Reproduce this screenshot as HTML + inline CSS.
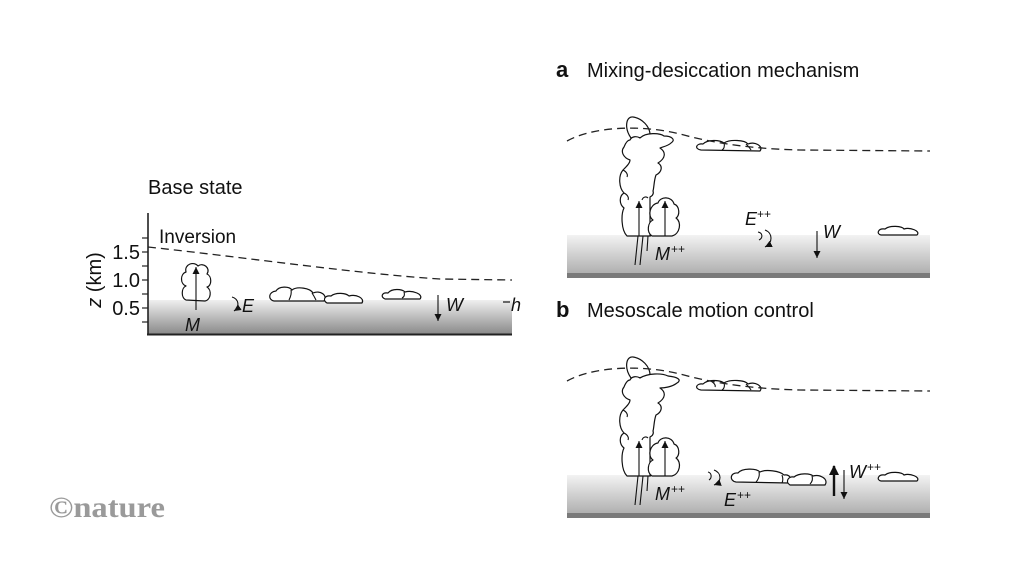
<!DOCTYPE html>
<html><head><meta charset="utf-8"><style>
html,body{margin:0;padding:0;background:#fff;}
svg{display:block;}
text{font-family:"Liberation Sans",Arial,sans-serif;fill:#111;}
.it{font-style:italic;}
.cl{fill:#fff;stroke:#111;stroke-width:1.2;stroke-linejoin:round;}
.ln{stroke:#111;stroke-width:1.1;fill:none;}
.dash{stroke:#222;stroke-width:1.3;fill:none;stroke-dasharray:8 5;}
</style></head><body>
<svg width="1024" height="576" viewBox="0 0 1024 576" xmlns="http://www.w3.org/2000/svg">
<defs>
<marker id="ah" markerUnits="userSpaceOnUse" markerWidth="8" markerHeight="8" refX="7" refY="3.5" orient="auto">
<path d="M0,0 L7,3.5 L0,7 Z" fill="#111"/>
</marker>
<marker id="ahB" markerUnits="userSpaceOnUse" markerWidth="12" markerHeight="12" refX="9" refY="5" orient="auto">
<path d="M0,0 L10,5 L0,10 Z" fill="#111"/>
</marker>
<linearGradient id="gBase" gradientUnits="userSpaceOnUse" x1="0" y1="300" x2="0" y2="334">
<stop offset="0" stop-color="#efefef"/><stop offset="1" stop-color="#8a8a8a"/>
</linearGradient>
<linearGradient id="gA" gradientUnits="userSpaceOnUse" x1="0" y1="235" x2="0" y2="273">
<stop offset="0" stop-color="#f3f3f3"/><stop offset="1" stop-color="#b0b0b0"/>
</linearGradient>
</defs>

<!-- ============ BASE STATE ============ -->
<text x="148" y="194" font-size="20">Base state</text>
<rect x="148" y="300" width="364" height="34" fill="url(#gBase)"/>
<line x1="148" y1="213" x2="148" y2="335" stroke="#222" stroke-width="1.6"/>
<line x1="147" y1="334.5" x2="512" y2="334.5" stroke="#222" stroke-width="2"/>
<g stroke="#222" stroke-width="1.2">
<line x1="142" y1="238" x2="148" y2="238"/>
<line x1="142" y1="252" x2="148" y2="252"/>
<line x1="142" y1="266" x2="148" y2="266"/>
<line x1="142" y1="280" x2="148" y2="280"/>
<line x1="142" y1="294" x2="148" y2="294"/>
<line x1="142" y1="308" x2="148" y2="308"/>
<line x1="142" y1="322" x2="148" y2="322"/>
</g>
<text x="140" y="259" font-size="20" text-anchor="end">1.5</text>
<text x="140" y="287" font-size="20" text-anchor="end">1.0</text>
<text x="140" y="315" font-size="20" text-anchor="end">0.5</text>
<text transform="translate(101,280) rotate(-90)" x="0" y="0" font-size="20" text-anchor="middle"><tspan class="it">z</tspan> (km)</text>
<text x="159" y="243" font-size="19">Inversion</text>
<path class="dash" d="M148,247 C250,258 360,274 440,279 L512,280"/>

<!-- base cloud -->
<path class="cl" d="M186,300 C181,298 181,288 186,286 C180,284 180,274 186,272 C184,264 194,261 198,266 C203,262 211,268 207,274 C212,276 212,286 207,287 C212,290 211,300 205,301 Z"/>
<line class="ln" x1="196" y1="310" x2="196" y2="267" marker-end="url(#ah)"/>
<text x="185" y="331" font-size="18" class="it">M</text>
<path class="ln" d="M232,297 C239,299 240,307 234,311" marker-end="url(#ah)"/>
<text x="242" y="312" font-size="18" class="it">E</text>

<!-- base flat clouds -->
<path class="cl" d="M274,301 C268,300 268,292 276,291 C279,286 289,286 292,290 C297,286 310,288 313,293 C320,290 328,295 324,301 Z"/>
<path class="ln" d="M291,290 C292,294 290,298 289,300 M312,293 C314,296 315,298 316,300"/>
<path class="cl" d="M327,303 C322,300 325,295 331,296 C336,292 346,293 349,296 C356,294 365,298 362,303 Z"/>
<path class="cl" d="M385,299 C380,297 382,292 388,293 C392,288 402,289 405,292 C412,290 424,294 420,299 Z"/>
<path class="ln" d="M404,292 C405,295 404,297 402,298"/>
<line class="ln" x1="438" y1="295" x2="438" y2="321" marker-end="url(#ah)"/>
<text x="446" y="311" font-size="18" class="it">W</text>
<line x1="503" y1="302" x2="510" y2="302" stroke="#222" stroke-width="1.3"/>
<text x="511" y="311" font-size="18" class="it">h</text>

<!-- ============ PANEL A ============ -->
<text x="556" y="77" font-size="22" font-weight="bold">a</text>
<text x="587" y="77" font-size="20">Mixing-desiccation mechanism</text>

<g id="panelA">
<rect x="567" y="235" width="363" height="38" fill="url(#gA)"/>
<rect x="567" y="273" width="363" height="5" fill="#7a7a7a"/>
<path class="cl" d="M631,138 C624,128 626,116 633,117 C641,118 651,126 650,137 Z"/>
<path class="cl" d="M627,236 C621,230 621,214 624,208 C619,204 619,196 624,193 C619,188 618,176 623,170 C627,166 630,163 630,160 C624,158 620,152 624,147 C626,142 628,140 630,140 C632,136 637,136 640,138 C646,132 660,133 664,136 C672,136 676,140 671,143 C668,146 662,147 660,148 C666,152 666,158 658,163 C663,166 662,172 656,175 C654,180 654,188 653,191 C654,194 652,196 650,197 L650,236 Z"/>
<path class="ln" d="M624,193 C628,195 629,198 628,200 M623,170 C627,172 628,175 627,177 M642,200 C643,197 646,196 648,198"/>
<line class="ln" x1="627" y1="236" x2="651" y2="236"/>
<path class="cl" d="M652,236 C646,232 648,222 653,220 C647,216 650,204 658,203 C660,196 672,196 674,204 C680,206 680,216 676,218 C682,222 680,234 672,236 Z"/>
<line class="ln" x1="635" y1="265" x2="638" y2="236"/>
<line class="ln" x1="640" y1="265" x2="643" y2="236"/>
<line class="ln" x1="647" y1="251" x2="648" y2="236"/>
<line class="ln" x1="639" y1="236" x2="639" y2="201" marker-end="url(#ah)"/>
<line class="ln" x1="665" y1="236" x2="665" y2="201" marker-end="url(#ah)"/>
<path class="cl" d="M701,150 C694,149 696,143 703,144 C708,139 720,140 724,143 C730,139 745,140 748,144 C754,141 764,146 760,151 Z"/>
<path class="ln" d="M724,143 C725,146 724,149 722,150 M746,144 C748,146 750,148 751,150"/>
<path class="dash" d="M567,141 C592,127 640,124 680,134 C720,145 760,149 800,150 L930,151"/>
</g>
<text x="655" y="260" font-size="18" class="it">M</text><text x="671" y="253" font-size="12">++</text>
<text x="745" y="225" font-size="18" class="it">E</text><text x="757" y="218" font-size="12">++</text>
<path class="ln" d="M758,232 C763,233 763,238 759,240"/>
<path class="ln" d="M765,230 C773,233 773,243 765,247" marker-end="url(#ah)"/>
<line class="ln" x1="817" y1="231" x2="817" y2="258" marker-end="url(#ah)"/>
<text x="823" y="238" font-size="18" class="it">W</text>
<path class="cl" d="M881,235 C876,234 878,228 885,229 C890,225 902,226 904,229 C910,227 921,231 917,235 Z"/>

<!-- ============ PANEL B ============ -->
<text x="556" y="317" font-size="22" font-weight="bold">b</text>
<text x="587" y="317" font-size="20">Mesoscale motion control</text>

<g transform="translate(0,240)">
<rect x="567" y="235" width="363" height="38" fill="url(#gA)"/>
<rect x="567" y="273" width="363" height="5" fill="#7a7a7a"/>
<path class="cl" d="M631,138 C624,128 626,116 633,117 C641,118 651,126 650,137 Z"/>
<path class="cl" d="M627,236 C621,230 621,214 624,208 C619,204 619,196 624,193 C619,188 618,176 623,170 C627,166 630,163 630,160 C624,158 620,152 624,147 C626,142 628,140 630,140 C632,136 637,136 640,138 C648,133 662,133 668,136 C678,137 682,140 677,143 C672,147 664,148 660,148 C666,152 666,158 658,163 C663,166 662,172 656,175 C654,180 654,188 653,191 C654,194 652,196 650,197 L650,236 Z"/>
<path class="ln" d="M624,193 C628,195 629,198 628,200 M623,170 C627,172 628,175 627,177 M642,200 C643,197 646,196 648,198"/>
<line class="ln" x1="627" y1="236" x2="651" y2="236"/>
<path class="cl" d="M652,236 C646,232 648,222 653,220 C647,216 650,204 658,203 C660,196 672,196 674,204 C680,206 680,216 676,218 C682,222 680,234 672,236 Z"/>
<line class="ln" x1="635" y1="265" x2="638" y2="236"/>
<line class="ln" x1="640" y1="265" x2="643" y2="236"/>
<line class="ln" x1="647" y1="251" x2="648" y2="236"/>
<line class="ln" x1="639" y1="236" x2="639" y2="201" marker-end="url(#ah)"/>
<line class="ln" x1="665" y1="236" x2="665" y2="201" marker-end="url(#ah)"/>
<path class="cl" d="M701,150 C694,149 696,143 703,144 C708,139 720,140 724,143 C730,139 745,140 748,144 C754,141 764,146 760,151 Z"/>
<path class="ln" d="M711,141 C714,143 716,145 715,147 M724,143 C725,146 724,149 722,150 M746,144 C748,146 750,148 751,150"/>
<path class="dash" d="M567,141 C592,127 640,124 680,134 C720,145 760,149 800,150 L930,151"/>
</g>
<text x="655" y="500" font-size="18" class="it">M</text><text x="671" y="493" font-size="12">++</text>
<path class="ln" d="M708,472 C712,473 712,478 709,480"/>
<path class="ln" d="M714,470 C722,473 722,482 714,485" marker-end="url(#ah)"/>
<text x="724" y="506" font-size="18" class="it">E</text><text x="737" y="499" font-size="12">++</text>
<path class="cl" d="M736,482 C729,481 730,472 738,473 C742,468 756,468 760,472 C766,469 780,471 784,475 C790,474 793,480 789,483 Z"/>
<path class="ln" d="M759,472 C760,476 758,480 756,482 M782,475 C783,478 783,481 782,483"/>
<path class="cl" d="M790,485 C785,482 788,476 794,477 C799,473 810,473 813,476 C820,474 829,479 825,485 Z"/>
<path class="ln" d="M812,476 C813,479 812,482 810,484"/>
<line x1="834" y1="496" x2="834" y2="466" stroke="#111" stroke-width="2.4" marker-end="url(#ahB)"/>
<line class="ln" x1="844" y1="470" x2="844" y2="499" marker-end="url(#ah)"/>
<text x="849" y="478" font-size="18" class="it">W</text><text x="867" y="471" font-size="12">++</text>
<path class="cl" d="M881,481 C876,480 878,474 885,475 C890,471 902,472 904,475 C910,473 921,477 917,481 Z"/>

<!-- nature logo -->
<text x="49" y="517" font-size="30" font-weight="bold" textLength="116" lengthAdjust="spacingAndGlyphs" style="font-family:'Liberation Serif','Times New Roman',serif;fill:#9a9a9a;">©nature</text>
</svg>
</body></html>
